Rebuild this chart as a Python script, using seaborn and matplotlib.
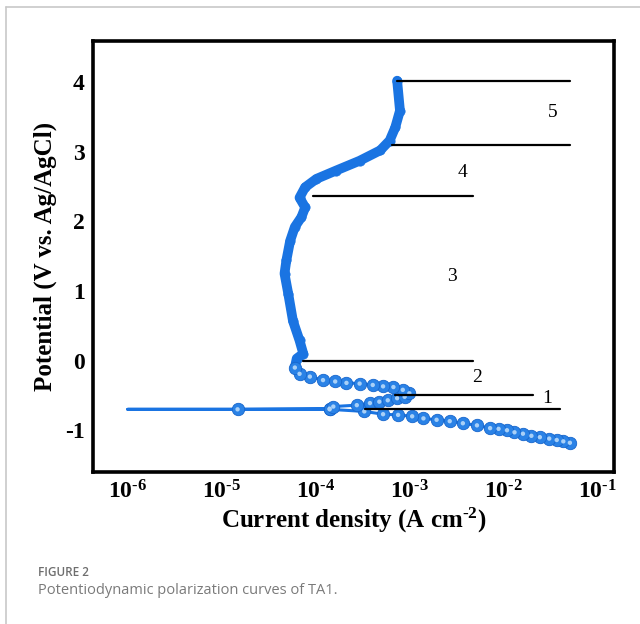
import numpy as np
import pandas as pd
import seaborn as sns
import matplotlib
matplotlib.use("Agg")
import matplotlib.pyplot as plt
from matplotlib.lines import Line2D
from matplotlib.ticker import LogLocator, MultipleLocator, FixedLocator

sns.set_theme(style="white")
plt.rcParams['font.family'] = ['Liberation Serif', 'DejaVu Serif']
plt.rcParams['mathtext.fontset'] = 'custom'
plt.rcParams['mathtext.rm'] = 'Liberation Serif:bold'
plt.rcParams['mathtext.bf'] = 'Liberation Serif:bold'
plt.rcParams['mathtext.it'] = 'Liberation Serif:bold'

# ---- data (log10 of current density, potential in V) ----
# cathodic branch (scan start) down to the corrosion potential
cath_logi = [-1.29, -1.36, -1.43, -1.51, -1.61, -1.70, -1.79, -1.88, -1.96, -2.05,
             -2.14, -2.28, -2.43, -2.57, -2.71, -2.85, -2.97, -3.12, -3.28, -3.48]
cath_E = [-1.18, -1.16, -1.14, -1.12, -1.10, -1.08, -1.05, -1.03, -1.00, -0.98,
          -0.97, -0.93, -0.90, -0.87, -0.85, -0.83, -0.80, -0.78, -0.77, -0.73]
# dip to the corrosion potential
dip_logi = [-3.48, -3.85, -4.83, -6.00, -4.83, -3.85]
dip_E = [-0.73, -0.70, -0.70, -0.70, -0.70, -0.69]
# active anodic region
act_logi = [-3.85, -3.81, -3.56, -3.42, -3.32, -3.23, -3.13, -3.05, -3.00, -3.07,
            -3.17, -3.28, -3.39, -3.53, -3.67, -3.79, -3.92, -4.06, -4.17, -4.22]
act_E = [-0.69, -0.66, -0.64, -0.61, -0.59, -0.57, -0.54, -0.52, -0.47, -0.42,
         -0.38, -0.37, -0.35, -0.33, -0.32, -0.30, -0.28, -0.23, -0.19, -0.10]
# passive and transpassive region
pas_logi = [-4.22, -4.20, -4.13, -4.17, -4.24, -4.29, -4.33, -4.31, -4.27, -4.22,
            -4.15, -4.11, -4.17, -4.11, -3.99, -3.78, -3.53, -3.31, -3.21, -3.15,
            -3.10, -3.13]
pas_E = [-0.10, 0.03, 0.10, 0.29, 0.57, 0.96, 1.25, 1.44, 1.72, 1.92,
         2.06, 2.20, 2.34, 2.49, 2.61, 2.73, 2.87, 3.02, 3.16, 3.35,
         3.59, 4.02]

# region separator lines: (potential, log10 i start, log10 i end)
sep_E = [4.02, 3.09, 2.37, -0.01, -0.49, -0.70]
sep_start = [-3.13, -3.19, -4.03, -4.13, -3.15, -3.47]
sep_end = [-1.29, -1.29, -2.32, -2.32, -1.68, -1.39]
# region labels
reg_text = ["5", "4", "3", "2", "1"]
reg_logi = [-1.47, -2.43, -2.55, -2.28, -1.53]
reg_E = [3.56, 2.70, 1.21, -0.24, -0.55]

xticks_exp = [-6, -5, -4, -3, -2, -1]
yticks = [-1, 0, 1, 2, 3, 4]

def df(logi, E):
    return pd.DataFrame({"i": np.power(10.0, logi), "E": E})

fig = plt.figure(figsize=(6.4, 6.24), dpi=100)
ax = fig.add_axes([93/640, 1-472/624, (614-93)/640, (472-41)/624])
ax.set_xscale('log')

blue = '#1a74e2'
# thin line for the whole scan
for lg, E in [(cath_logi, cath_E), (dip_logi, dip_E), (act_logi, act_E)]:
    sns.lineplot(data=df(lg, E), x="i", y="E", sort=False, estimator=None,
                 color=blue, lw=2.2, ax=ax)
# dense passive band
sns.lineplot(data=df(pas_logi, pas_E), x="i", y="E", sort=False, estimator=None,
             color=blue, lw=7, ax=ax, solid_capstyle='round')
sns.scatterplot(data=df(pas_logi, pas_E), x="i", y="E", color=blue, s=45,
                edgecolor=blue, linewidth=0.5, ax=ax, zorder=3)
# sphere-like markers
mk = pd.concat([df(cath_logi, cath_E), df(dip_logi[1:3], dip_E[1:3]), df(act_logi, act_E)])
sns.scatterplot(data=mk, x="i", y="E", color='#2a82e6', s=80, edgecolor='#1766cc',
                linewidth=0.6, ax=ax, zorder=4)
sns.scatterplot(data=mk, x="i", y="E", color='#a9d0f7', s=10, edgecolor='none',
                linewidth=0, ax=ax, zorder=5)

for E, a, b in zip(sep_E, sep_start, sep_end):
    ax.plot([10**a, 10**b], [E, E], color='black', lw=1.6, zorder=6)
for t, lg, E in zip(reg_text, reg_logi, reg_E):
    ax.text(10**lg, E, t, fontsize=14, ha='center', va='center', color='black')

ax.set_xlim(10**-6.37, 10**-0.82)
ax.set_ylim(-1.6, 4.59)
ax.xaxis.set_major_locator(FixedLocator([10.0**e for e in xticks_exp]))
ax.set_xticklabels([r'$\mathbf{10^{\text{%d}}}$' % e for e in xticks_exp])
ax.xaxis.set_minor_locator(LogLocator(base=10, subs=np.arange(2, 10), numticks=20))
ax.set_yticks(yticks)
ax.set_yticklabels([str(v) for v in yticks])
ax.yaxis.set_minor_locator(MultipleLocator(0.2))
ax.tick_params(which='major', direction='in', length=6, width=2, labelsize=17,
               top=False, right=False, pad=6, colors='black')
ax.tick_params(which='minor', direction='in', length=3.5, width=1.5,
               top=False, right=False)
for lab in ax.get_yticklabels():
    lab.set_fontweight('bold')
for s in ax.spines.values():
    s.set_linewidth(2.6)
    s.set_color('black')

ax.set_xlabel(r'Current density (A cm$^{\text{-2}}$)', fontsize=18, fontweight='bold',
              labelpad=2, color='black')
ax.set_ylabel('Potential (V vs. Ag/AgCl)', fontsize=18, fontweight='bold',
              labelpad=6, color='black')

# page frame and caption
fig.add_artist(Line2D([6/640, 6/640], [0, 1-7/624], transform=fig.transFigure,
                      color='#c8c8c8', lw=1.2))
fig.add_artist(Line2D([6/640, 1], [1-7/624, 1-7/624], transform=fig.transFigure,
                      color='#c8c8c8', lw=1.2))
fig.text(38/640, 1-573/624, 'FIGURE 2', family=['Open Sans', 'DejaVu Sans'],
         fontsize=8.5, fontweight='semibold', color='#6e6e6e', va='center')
fig.text(38/640, 1-591/624, 'Potentiodynamic polarization curves of TA1.',
         family=['Open Sans', 'DejaVu Sans'], fontsize=10.5, color='#7a7a7a', va='center')

fig.savefig('out.png', dpi=100)
